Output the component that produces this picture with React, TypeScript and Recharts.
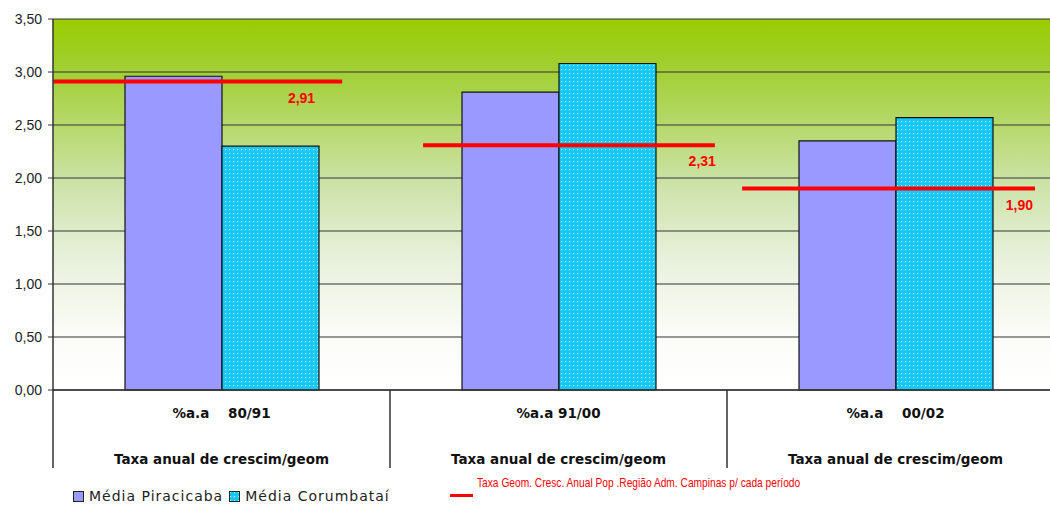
import React from "react";
import {
  ComposedChart,
  Bar,
  XAxis,
  YAxis,
  CartesianGrid,
  ReferenceLine,
} from "recharts";

// periods and their series values (%a.a)
const periods = ["%a.a    80/91", "%a.a 91/00", "%a.a    00/02"];
const piracicaba = [2.96, 2.81, 2.35];
const corumbatai = [2.3, 3.08, 2.57];
// regional reference rate for each period
const campinas = [2.91, 2.31, 1.9];
const campinasLabels = ["2,91", "2,31", "1,90"];
const yTicks = [0, 0.5, 1, 1.5, 2, 2.5, 3, 3.5];

// where each reference segment sits relative to its band centre (band units)
const SEG_SPANS: Array<[number, number]> = [
  [-0.5, 0.358],
  [-0.402, 0.464],
  [-0.455, 0.414],
];
const SEG_LABEL_DX = [-27, 1, -2];

const CHART_W = 1064;
const PLOT_LEFT = 53;
const BAND = (CHART_W - PLOT_LEFT) / 3;

const data = periods.map((p, i) => ({
  period: p,
  piracicaba: piracicaba[i],
  corumbatai: corumbatai[i],
}));

const fmt = (v: number) => v.toFixed(2).replace(".", ",");

const CategoryTick = (props: any) => {
  const { x, y, payload, index } = props;
  const font = "'DejaVu Sans', Verdana, sans-serif";
  return (
    <g>
      {index === 0 && (
        <line x1={x - BAND / 2} y1={y} x2={x - BAND / 2} y2={y + 78} stroke="#333" strokeWidth={1.5} />
      )}
      <line x1={x + BAND / 2} y1={y} x2={x + BAND / 2} y2={y + 78} stroke="#333" strokeWidth={1.5} />
      <text
        x={x}
        y={y + 28}
        textAnchor="middle"
        fontFamily={font}
        fontWeight="bold"
        fontSize={13.5}
        fill="#111"
        style={{ whiteSpace: "pre" }}
      >
        {payload.value}
      </text>
      <text x={x} y={y + 74} textAnchor="middle" fontFamily={font} fontWeight="bold" fontSize={13.5} fill="#111">
        Taxa anual de crescim/geom
      </text>
    </g>
  );
};

// red segment inside a period band, with its value printed under the right end
const segShape = (i: number) => (p: any) => {
  const cx = p.x1;
  const y = p.y1;
  const xs = cx + SEG_SPANS[i][0] * BAND;
  const xe = cx + SEG_SPANS[i][1] * BAND;
  return (
    <g>
      <line x1={xs} y1={y} x2={xe} y2={y} stroke="#ff0000" strokeWidth={4} />
      <text
        x={xe + SEG_LABEL_DX[i]}
        y={y + 21}
        textAnchor="end"
        fontFamily="'Liberation Sans', Arial, sans-serif"
        fontWeight="bold"
        fontSize={14}
        fill="#ff0000"
      >
        {campinasLabels[i]}
      </text>
    </g>
  );
};

export default function App() {
  return (
    <div style={{ position: "absolute", left: 0, top: 0, width: 1050, height: 508, overflow: "hidden", background: "#fff" }}>
      <ComposedChart
        width={CHART_W}
        height={508}
        data={data}
        margin={{ top: 19, right: 0, left: 0, bottom: 40 }}
        barCategoryGap={72}
        barGap={0}
      >
        <defs>
          <linearGradient id="plotBg" x1="0" y1="0" x2="0" y2="1">
            <stop offset="0%" stopColor="#99cc00" />
            <stop offset="14%" stopColor="#a2cf35" />
            <stop offset="45%" stopColor="#cde3aa" />
            <stop offset="65%" stopColor="#e8f1dc" />
            <stop offset="85%" stopColor="#fbfcf7" />
            <stop offset="100%" stopColor="#ffffff" />
          </linearGradient>
          <pattern id="dots" width="4" height="4" patternUnits="userSpaceOnUse">
            <rect width="4" height="4" fill="#14c8fa" />
            <rect x="1" y="1" width="1.2" height="1.2" fill="#b8ecff" />
          </pattern>
        </defs>
        <CartesianGrid vertical={false} stroke="#333" strokeWidth={1.2} fill="url(#plotBg)" fillOpacity={1} />
        <XAxis
          dataKey="period"
          height={78}
          axisLine={{ stroke: "#333", strokeWidth: 1.5 }}
          tickLine={false}
          tickSize={0}
          tickMargin={0}
          interval={0}
          tick={<CategoryTick />}
        />
        <YAxis
          width={PLOT_LEFT}
          domain={[0, 3.5]}
          ticks={yTicks}
          interval={0}
          tickFormatter={fmt}
          axisLine={{ stroke: "#333", strokeWidth: 1.5 }}
          tickLine={{ stroke: "#333" }}
          tickSize={5}
          tickMargin={6}
          tick={{ fill: "#222", fontSize: 14, fontFamily: "'Liberation Sans', Arial, sans-serif" }}
        />
        <Bar dataKey="piracicaba" fill="#9999ff" stroke="#111" strokeWidth={1.2} isAnimationActive={false} />
        <Bar dataKey="corumbatai" fill="url(#dots)" stroke="#111" strokeWidth={1.2} isAnimationActive={false} />
        {campinas.map((v, i) => (
          <ReferenceLine
            key={i}
            segment={[
              { x: periods[i], y: v },
              { x: periods[i], y: v },
            ]}
            ifOverflow="visible"
            shape={segShape(i)}
          />
        ))}
      </ComposedChart>

      {/* series legend */}
      <div
        style={{
          position: "absolute",
          left: 73,
          top: 488,
          display: "flex",
          alignItems: "center",
          fontFamily: "'DejaVu Sans', Verdana, sans-serif",
          fontSize: 14,
          letterSpacing: 1,
          color: "#222",
          whiteSpace: "nowrap",
        }}
      >
        <span style={{ width: 9, height: 9, background: "#9999ff", border: "1px solid #222", marginRight: 5 }} />
        <span style={{ marginRight: 6 }}>Média Piracicaba</span>
        <svg width={11} height={11} style={{ marginRight: 5 }}>
          <rect x={0.5} y={0.5} width={10} height={10} fill="url(#dots)" stroke="#222" />
        </svg>
        <span>Média Corumbataí</span>
      </div>
      <div style={{ position: "absolute", left: 450, top: 494, width: 23, height: 3, background: "#ff0000" }} />
      <div
        style={{
          position: "absolute",
          left: 477,
          top: 476,
          fontFamily: "'Liberation Sans', Arial, sans-serif",
          fontSize: 12,
          color: "#ff0000",
          whiteSpace: "nowrap",
          transform: "scaleX(0.85)",
          transformOrigin: "left center",
        }}
      >
        Taxa Geom. Cresc. Anual Pop .Região Adm. Campinas p/ cada período
      </div>
    </div>
  );
}
